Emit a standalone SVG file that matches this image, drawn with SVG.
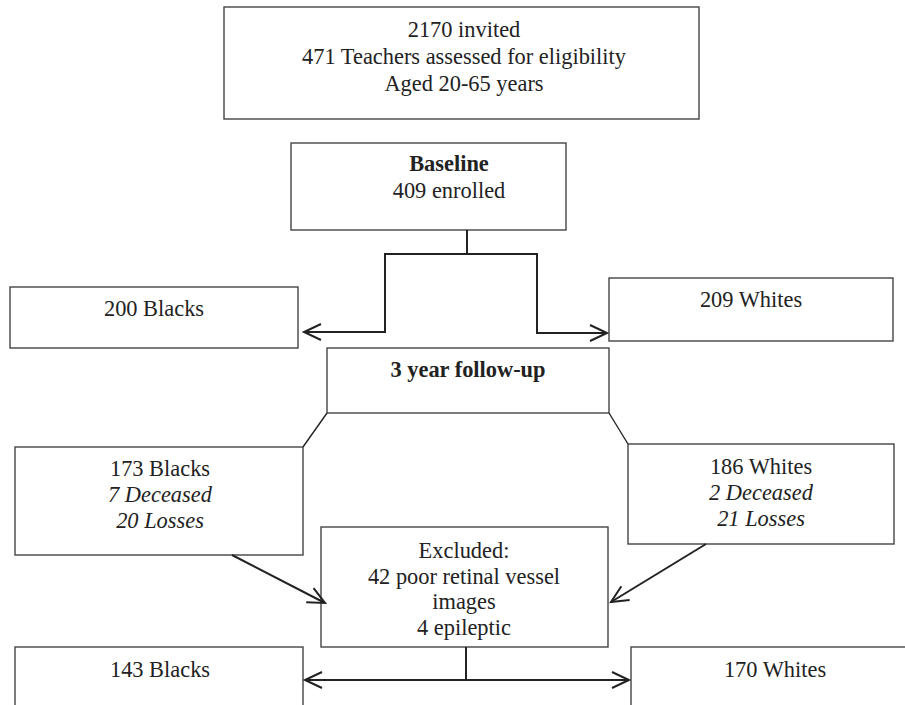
<svg xmlns="http://www.w3.org/2000/svg" width="905" height="705" viewBox="0 0 905 705">
<style>
.box{fill:#fff;stroke:#444;stroke-width:1.4}
.t{font-family:"Liberation Serif","Times New Roman",serif;font-size:22.4px;fill:#222;text-anchor:middle}
.b{font-weight:bold}
.i{font-style:italic}
.c{fill:none;stroke:#222;stroke-width:2}
.d{fill:none;stroke:#222;stroke-width:1.4}
</style>
<defs>
<marker id="ah" markerUnits="userSpaceOnUse" viewBox="-20 -10 22 20" refX="0" refY="0" markerWidth="22" markerHeight="20" orient="auto" overflow="visible">
<path d="M-17,-8 L0,0 L-17,8" fill="none" stroke="#222" stroke-width="2"/>
</marker>
</defs>
<rect width="905" height="705" fill="#fff"/>
<g id="invited">
<rect class="box" x="224" y="7" width="475" height="112"/>
<text class="t" x="464" y="37">2170 invited</text>
<text class="t" x="464" y="64">471 Teachers assessed for eligibility</text>
<text class="t" x="464" y="91">Aged 20-65 years</text>
</g>
<g id="baseline">
<rect class="box" x="291" y="143" width="275" height="87"/>
<text class="t b" x="449" y="171">Baseline</text>
<text class="t" x="449" y="198">409 enrolled</text>
</g>
<g id="blacks200">
<rect class="box" x="10" y="287" width="288" height="61"/>
<text class="t" x="154" y="316">200 Blacks</text>
</g>
<g id="whites209">
<rect class="box" x="609" y="278" width="284" height="63"/>
<text class="t" x="751" y="307">209 Whites</text>
</g>
<g id="followup">
<rect class="box" x="327" y="348" width="282" height="65"/>
<text class="t b" x="468" y="377">3 year follow-up</text>
</g>
<g id="blacks173">
<rect class="box" x="15" y="447" width="288" height="108"/>
<text class="t" x="160" y="476">173 Blacks</text>
<text class="t i" x="160" y="502">7 Deceased</text>
<text class="t i" x="160" y="528">20 Losses</text>
</g>
<g id="whites186">
<rect class="box" x="628" y="444" width="266" height="100"/>
<text class="t" x="761" y="474">186 Whites</text>
<text class="t i" x="761" y="500">2 Deceased</text>
<text class="t i" x="761" y="526">21 Losses</text>
</g>
<g id="excluded">
<rect class="box" x="321" y="527" width="287" height="120"/>
<text class="t" x="464" y="558">Excluded:</text>
<text class="t" x="464" y="584">42 poor retinal vessel</text>
<text class="t" x="464" y="609">images</text>
<text class="t" x="464" y="635">4 epileptic</text>
</g>
<g id="blacks143">
<rect class="box" x="15" y="647" width="288" height="80"/>
<text class="t" x="160" y="677">143 Blacks</text>
</g>
<g id="whites170">
<rect class="box" x="631" y="647" width="290" height="80"/>
<text class="t" x="775" y="677">170 Whites</text>
</g>
<g id="connectors">
<path class="c" d="M467,230 V254 H385 V332 H304" marker-end="url(#ah)"/>
<path class="c" d="M467,254 H537 V333 H607" marker-end="url(#ah)"/>
<path class="d" d="M327,413 L303,447"/>
<path class="d" d="M609,413 L628,444"/>
<path class="c" d="M232,555 L325,603" marker-end="url(#ah)"/>
<path class="c" d="M706,544 L611,602" marker-end="url(#ah)"/>
<path class="c" d="M466,647 V680 H305" marker-end="url(#ah)"/>
<path class="c" d="M466,680 H629" marker-end="url(#ah)"/>
</g>
</svg>
